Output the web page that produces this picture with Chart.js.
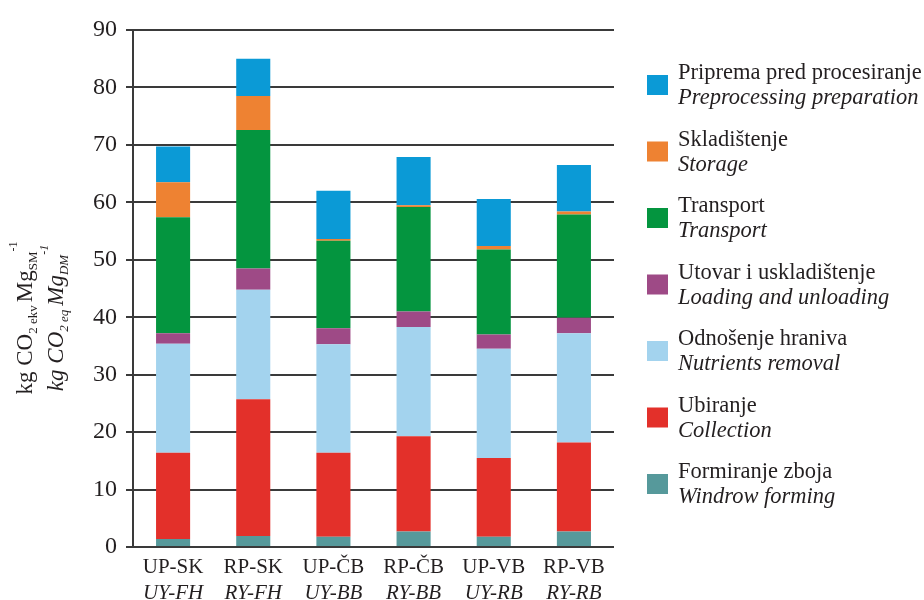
<!DOCTYPE html>
<html>
<head>
<meta charset="utf-8">
<script src="https://cdn.jsdelivr.net/npm/chart.js@4.4.1/dist/chart.umd.min.js"></script>
<style>
  html, body { margin: 0; padding: 0; background: #ffffff; }
  #wrap { width: 924px; height: 600px; }
</style>
</head>
<body>
<div id="wrap"><canvas id="c" width="924" height="600"></canvas></div>
<script>
// Emissions by operation, kg CO2 eq per Mg of dry matter
const categories   = ['UP-SK', 'RP-SK', 'UP-ČB', 'RP-ČB', 'UP-VB', 'RP-VB'];
const categoriesEn = ['UY-FH', 'RY-FH', 'UY-BB', 'RY-BB', 'UY-RB', 'RY-RB'];
const yTicks = [0, 10, 20, 30, 40, 50, 60, 70, 80, 90];

const windrowForming  = [1.4, 1.9, 1.8, 2.7, 1.8, 2.7];
const collection      = [15.0, 23.8, 14.6, 16.6, 13.7, 15.5];
const nutrientsRemoval= [19.0, 19.1, 18.9, 19.0, 19.0, 19.0];
const loadingUnloading= [1.8, 3.7, 2.8, 2.7, 2.5, 2.7];
const transport       = [20.2, 24.1, 15.2, 18.2, 14.8, 18.0];
const storage         = [6.1, 5.9, 0.3, 0.3, 0.6, 0.5];
const preprocessing   = [6.2, 6.5, 8.4, 8.4, 8.2, 8.1];

const namesHr = ['Formiranje zboja', 'Ubiranje', 'Odnošenje hraniva', 'Utovar i uskladištenje', 'Transport', 'Skladištenje', 'Priprema pred procesiranje'];
const namesEn = ['Windrow forming', 'Collection', 'Nutrients removal', 'Loading and unloading', 'Transport', 'Storage', 'Preprocessing preparation'];

const SERIF = '"Liberation Serif", "DejaVu Serif", serif';
const INK = '#231f20';

const seriesValues = [windrowForming, collection, nutrientsRemoval, loadingUnloading, transport, storage, preprocessing];
const seriesColors = ['#56999b', '#e3302a', '#a3d3ee', '#9e4a86', '#04953f', '#ee8232', '#0b9ad6'];

const datasets = seriesValues.map((vals, i) => ({
  label: namesHr[i],
  data: vals,
  backgroundColor: seriesColors[i],
  borderWidth: 0,
  barPercentage: 0.85,
  categoryPercentage: 0.5
}));

// Draws a run of text pieces with their own size, style and vertical shift
function drawRuns(ctx, runs, x, baseline) {
  let cx = x;
  runs.forEach(r => {
    ctx.font = (r.italic ? 'italic ' : '') + r.size + 'px ' + SERIF;
    ctx.fillText(r.t, cx, baseline + (r.dy || 0));
    cx += ctx.measureText(r.t).width + (r.gap || 0);
  });
}
function runsWidth(ctx, runs) {
  let w = 0;
  runs.forEach(r => {
    ctx.font = (r.italic ? 'italic ' : '') + r.size + 'px ' + SERIF;
    w += ctx.measureText(r.t).width + (r.gap || 0);
  });
  return w;
}

const extrasPlugin = {
  id: 'extras',
  afterDraw(chart) {
    const ctx = chart.ctx;
    const xs = chart.scales.x;
    const area = chart.chartArea;
    ctx.save();
    ctx.fillStyle = INK;

    // second (English, italic) line of category labels
    ctx.textAlign = 'center';
    ctx.textBaseline = 'alphabetic';
    ctx.font = 'italic 21px ' + SERIF;
    categoriesEn.forEach((lab, i) => {
      ctx.fillText(lab, xs.getPixelForTick(i), area.bottom + 52);
    });

    // rotated y-axis title with sub/superscripts
    const line1 = [
      { t: 'kg CO', size: 23 },
      { t: '2 ekv', size: 13, dy: 5, gap: 3 },
      { t: 'Mg', size: 23 },
      { t: 'SM', size: 13, dy: 5 },
      { t: '-1', size: 12, dy: -15 }
    ];
    const line2 = [
      { t: 'kg CO', size: 23, italic: true },
      { t: '2 eq', size: 13, dy: 5, italic: true, gap: 4 },
      { t: 'Mg', size: 23, italic: true },
      { t: 'DM', size: 13, dy: 5, italic: true },
      { t: '-1', size: 12, dy: -15, italic: true }
    ];
    const cy = 318;
    ctx.save();
    ctx.translate(0, cy);
    ctx.rotate(-Math.PI / 2);
    ctx.textAlign = 'left';
    drawRuns(ctx, line1, -runsWidth(ctx, line1) / 2, 32);
    drawRuns(ctx, line2, -runsWidth(ctx, line2) / 2, 63);
    ctx.restore();

    // legend, top entry = top of the stack
    const order = [6, 5, 4, 3, 2, 1, 0];
    ctx.textAlign = 'left';
    order.forEach((di, k) => {
      const c = 85 + k * 66.5;
      ctx.fillStyle = chart.data.datasets[di].backgroundColor;
      ctx.fillRect(647, c - 10, 21, 20);
      ctx.fillStyle = INK;
      ctx.font = '22.5px ' + SERIF;
      ctx.fillText(namesHr[di], 678, c - 6);
      ctx.font = 'italic 22.5px ' + SERIF;
      ctx.fillText(namesEn[di], 678, c + 19);
    });
    ctx.restore();
  }
};

new Chart(document.getElementById('c'), {
  type: 'bar',
  data: { labels: categories, datasets },
  plugins: [extrasPlugin],
  options: {
    responsive: false,
    animation: false,
    devicePixelRatio: 1,
    layout: { padding: { top: 30, right: 310, left: 0, bottom: 0 } },
    plugins: { legend: { display: false }, tooltip: { enabled: false } },
    scales: {
      x: {
        stacked: true,
        grid: { display: false, drawTicks: false },
        border: { display: false },
        ticks: { color: INK, font: { family: SERIF, size: 21 }, padding: 8, maxRotation: 0 },
        afterFit(s) { s.height = 53; }
      },
      y: {
        stacked: true,
        min: 0,
        max: 90,
        afterBuildTicks(s) { s.ticks = yTicks.map(v => ({ value: v })); },
        grid: { color: '#3a3a3a', lineWidth: 2, tickLength: 7, drawTicks: true },
        border: { display: true, color: '#3a3a3a', width: 2 },
        ticks: { color: INK, font: { family: SERIF, size: 24 }, padding: 9 },
        afterFit(s) { s.width = 133; }
      }
    }
  }
});
</script>
</body>
</html>
